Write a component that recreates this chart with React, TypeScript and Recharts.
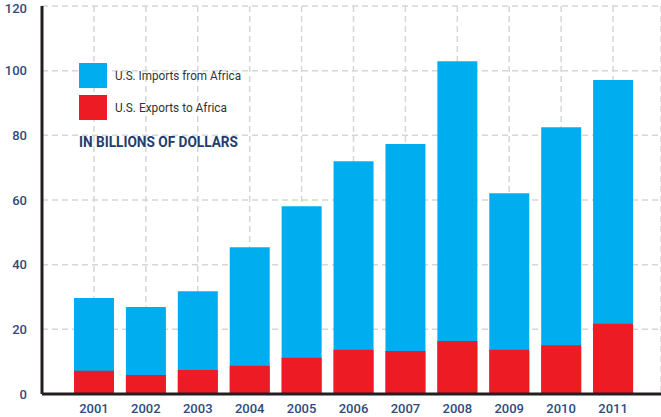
import { Bar, BarChart, CartesianGrid, XAxis, YAxis } from 'recharts';

const YEARS = ['2001', '2002', '2003', '2004', '2005', '2006', '2007', '2008', '2009', '2010', '2011'];
// billions of dollars
const IMPORTS = [29.7, 26.9, 31.8, 45.4, 58.1, 72.0, 77.3, 102.9, 62.1, 82.5, 97.1];
const EXPORTS = [7.2, 5.9, 7.4, 8.7, 11.2, 13.7, 13.3, 16.4, 13.7, 15.1, 21.7];
const Y_TICKS = [0, 20, 40, 60, 80, 100, 120];

const SERIES = [
  { key: 'imports', label: 'U.S. Imports from Africa', color: '#00aeef', textWidth: 126 },
  { key: 'exports', label: 'U.S. Exports to Africa', color: '#ed1c24', textWidth: 112 },
];
const UNIT_LABEL = 'IN BILLIONS OF DOLLARS';

const TICK_COLOR = '#2f4b7c';
const FONT = 'Roboto, "Open Sans", sans-serif';

const data = YEARS.map((year, i) => ({
  year,
  imports: IMPORTS[i],
  exports: EXPORTS[i],
}));

function LegendBox() {
  return (
    <svg
      width={180}
      height={95}
      style={{ position: 'absolute', left: 79, top: 63, overflow: 'visible' }}
    >
      {SERIES.map((s, i) => (
        <g key={s.key} transform={`translate(0, ${i * 32})`}>
          <rect width={28} height={25} fill={s.color} />
          <text
            x={36}
            y={17}
            fontSize={13}
            fill="#333"
            fontFamily={FONT}
            textLength={s.textWidth}
            lengthAdjust="spacingAndGlyphs"
          >
            {s.label}
          </text>
        </g>
      ))}
      <text
        x={0}
        y={84}
        fontSize={15}
        fontWeight={700}
        fill="#1f3d6e"
        fontFamily={FONT}
        textLength={159}
        lengthAdjust="spacingAndGlyphs"
      >
        {UNIT_LABEL}
      </text>
    </svg>
  );
}

export default function App() {
  return (
    <div style={{ position: 'relative', width: 661, height: 417, background: '#fff' }}>
      <style>{'body { margin: 0; }'}</style>
      <BarChart
        width={661}
        height={417}
        data={data}
        margin={{ top: 6, right: 0, bottom: 0, left: 0 }}
        barGap={-40}
      >
        <CartesianGrid stroke="#d6d6d6" strokeWidth={1.5} strokeDasharray="6 4" />
        <XAxis
          dataKey="year"
          height={23}
          padding={{ left: 26, right: 22 }}
          tickLine={false}
          tickMargin={4}
          axisLine={{ stroke: '#231f20', strokeWidth: 3 }}
          tick={{ fill: TICK_COLOR, fontSize: 13, fontWeight: 500, fontFamily: FONT }}
          interval={0}
        />
        <YAxis
          domain={[0, 120]}
          ticks={Y_TICKS}
          width={42}
          tickLine={false}
          tickMargin={9}
          axisLine={{ stroke: '#231f20', strokeWidth: 3 }}
          tick={{ fill: TICK_COLOR, fontSize: 13, fontWeight: 500, fontFamily: FONT }}
        />
        <Bar
          dataKey="imports"
          name={SERIES[0].label}
          fill={SERIES[0].color}
          barSize={40}
          isAnimationActive={false}
        />
        <Bar
          dataKey="exports"
          name={SERIES[1].label}
          fill={SERIES[1].color}
          barSize={40}
          isAnimationActive={false}
        />
      </BarChart>
      <LegendBox />
    </div>
  );
}
